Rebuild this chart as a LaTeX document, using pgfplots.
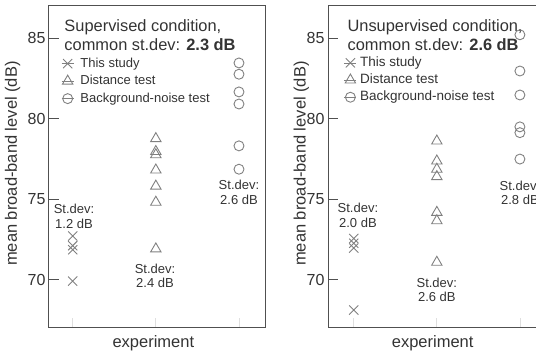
\documentclass[border=0pt]{standalone}
\usepackage{pgfplots}
\pgfplotsset{compat=1.18}
\usepackage{fontspec}
\setmainfont{Liberation Sans}
\definecolor{axgray}{HTML}{505050}
\definecolor{mkgray}{HTML}{808080}
\definecolor{txt}{HTML}{333333}
\tikzset{
  sd/.style={font=\fontsize{13}{14.5}\selectfont, text=txt, align=center, anchor=center},
  ttl/.style={anchor=base west, inner sep=0pt, font=\fontsize{16.4}{19}\selectfont, text=txt},
}
\pgfplotsset{
  panel/.style={
    scale only axis, width=216pt, height=322pt,
    ymin=67, ymax=87, ytick={70,75,80,85},
    xtick={0,1,2}, xticklabels={,,},
    axis line style={draw=axgray, line width=1pt},
    tick align=inside, xtick pos=lower, ytick pos=left,
    major tick length=10pt,
    ytick style={draw=axgray, line width=0.8pt},
    xtick style={draw=gray!25, line width=0.8pt},
    /pgf/number format/assume math mode=true,
    yticklabel style={font=\fontsize{16}{19}\selectfont, text=txt},
    label style={font=\fontsize{16.5}{19}\selectfont, text=txt},
    clip=false,
    legend cell align=left,
    legend image code/.code={\path (-6pt,0pt) -- (6pt,0pt); \draw[##1] plot coordinates {(0pt,0pt)};},
  },
  cross/.style={only marks, mark=x, mark size=6.5pt, color=mkgray, mark options={line width=0.9pt}},
  tri/.style={only marks, mark=triangle, mark size=6pt, color=mkgray, mark options={line width=0.9pt}},
  circ/.style={only marks, mark=o, mark size=5pt, color=mkgray, mark options={line width=0.9pt}},
}
\begin{document}
\begin{tikzpicture}
\useasboundingbox (0,0) rectangle (536pt,353pt);
\clip (0,0) rectangle (536pt,353pt);
% ---------------- left panel ----------------
\begin{axis}[panel, at={(49pt,25.2pt)}, anchor=south west,
  xmin=-0.285, xmax=2.313,
  xlabel={experiment}, ylabel={mean broad-band level (dB)},
  xlabel style={at={(axis cs:0.97,67)}, anchor=center, yshift=-15.5pt},
  ylabel style={at={(axis description cs:-0.169,0.51)}, anchor=center},
  legend style={at={(axis cs:-0.135,83.78)}, anchor=north west, draw=none, fill=none,
    font=\fontsize{13}{15}\selectfont, text=txt, inner sep=0pt, outer sep=0pt,
    row sep=5.5pt, column sep=6.5pt,
    nodes={inner sep=0pt, text height=9.5pt, text depth=2.5pt}},
]
\addplot[cross] coordinates {(0,72.7) (0,72.1) (0,71.85) (0,69.9)};
\addlegendentry{This study}
\addplot[tri] coordinates {(1,78.75) (1,77.95) (1,77.75) (1,76.8) (1,75.8) (1,74.8) (1,71.9)};
\addlegendentry{Distance test}
\addplot[circ] coordinates {(2,83.45) (2,82.75) (2,81.65) (2,80.9) (2,78.3) (2,76.85)};
\addlegendentry{Background-noise test}
\node[ttl] at (axis cs:-0.101,85.40) {Supervised condition,};
\node[ttl] at (axis cs:-0.101,84.22) {common st.dev: \textbf{2.3 dB}};
\node[sd] at (axis cs:0.016,73.91) {St.dev:\\1.2 dB};
\node[sd] at (axis cs:0.99,70.24) {St.dev:\\2.4 dB};
\node[sd] at (axis cs:2.0,75.4) {St.dev:\\2.6 dB};
\end{axis}
% ---------------- right panel ----------------
\begin{axis}[panel, at={(328pt,25.2pt)}, anchor=south west,
  xmin=-0.31, xmax=2.29,
  xlabel={experiment}, ylabel={mean broad-band level (dB)},
  xlabel style={at={(axis cs:0.95,67)}, anchor=center, yshift=-15.5pt},
  ylabel style={at={(axis description cs:-0.123,0.51)}, anchor=center},
  legend style={at={(axis cs:-0.115,83.83)}, anchor=north west, draw=none, fill=none,
    font=\fontsize{13.5}{15}\selectfont, text=txt, inner sep=0pt, outer sep=0pt,
    row sep=5.2pt, column sep=3.5pt,
    nodes={inner sep=0pt, text height=9.5pt, text depth=2.5pt}},
]
\addplot[cross] coordinates {(0,72.55) (0,72.25) (0,71.95) (0,68.1)};
\addlegendentry{This study}
\addplot[tri] coordinates {(1,78.6) (1,77.36) (1,76.85) (1,76.39) (1,74.17) (1,73.65) (1,71.07)};
\addlegendentry{Distance test}
\addplot[circ] coordinates {(2,85.2) (2,82.95) (2,81.46) (2,79.48) (2,79.12) (2,77.48)};
\addlegendentry{Background-noise test}
\node[ttl] at (axis cs:-0.077,85.40) {Unsupervised condition,};
\node[ttl] at (axis cs:-0.077,84.22) {common st.dev: \textbf{2.6 dB}};
\node[sd] at (axis cs:0.05,73.98) {St.dev:\\2.0 dB};
\node[sd] at (axis cs:1.0,69.35) {St.dev:\\2.6 dB};
\node[sd] at (axis cs:2.0,75.37) {St.dev:\\2.8 dB};
\end{axis}
\end{tikzpicture}
\end{document}
